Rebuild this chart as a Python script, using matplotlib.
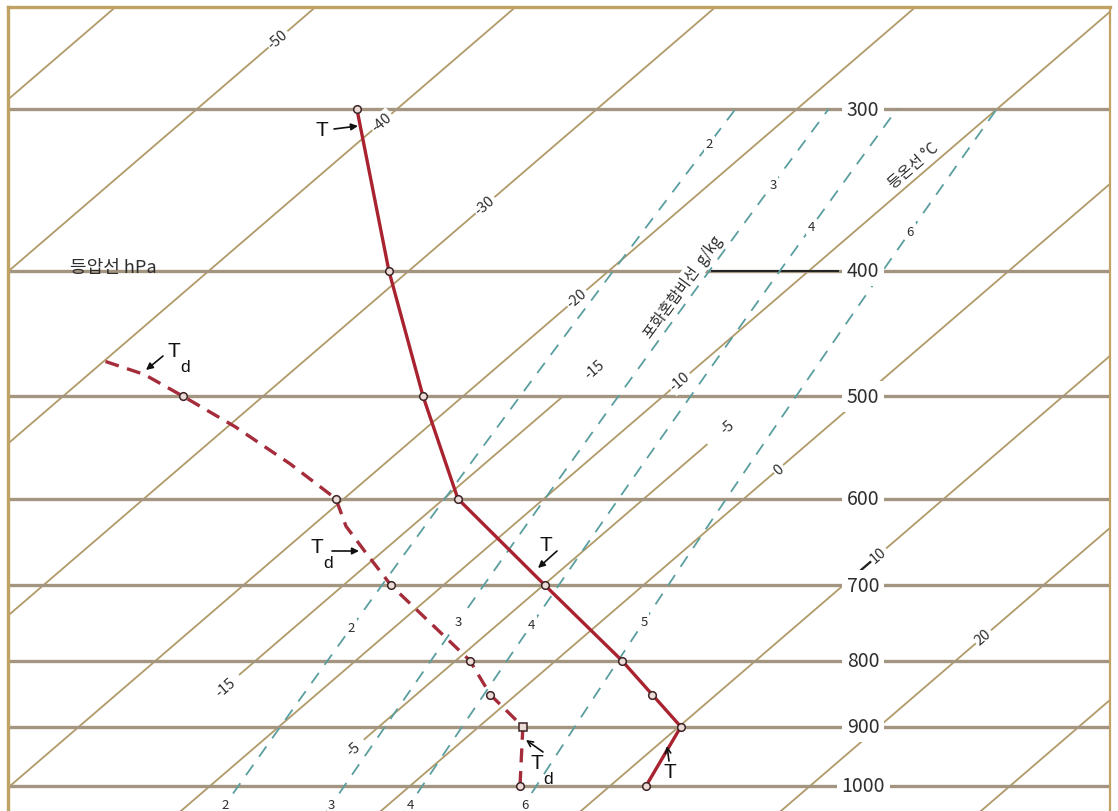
import numpy as np
import matplotlib
matplotlib.use("Agg")
import matplotlib.pyplot as plt

plt.rcParams["font.family"] = ["Noto Sans CJK KR", "DejaVu Sans"]

# ---------------- chart data ----------------
isobar_levels = [300, 400, 500, 600, 700, 800, 900, 1000]
isobar_labels = ["300", "400", "500", "600", "700", "800", "900", "1000"]

isotherm_full = [-60, -50, -40, -30, -20, -10, 0, 10, 20, 30]
isotherm_part = [-15, -5]
isotherm_part_top = [500, 545]
isotherm_part_bottom = [820, 920]

iso_label_t = [-50, -40, -30, -20, -15, -15, -10, -5, -5, 0, 10, 20]
iso_label_p = [265, 307, 356, 420, 476, 838, 487, 528, 936, 569, 663, 767]

mixing_ratios = [2, 3, 4, 6]
mix_label_w = [2, 3, 4, 6, 2, 3, 4, 6, 2, 3, 4, 6]
mix_label_text = ["2", "3", "4", "6", "2", "3", "4", "5", "2", "3", "4", "6"]
mix_label_p = [319, 343, 370, 373, 754, 747, 750, 746, 1033, 1033, 1033, 1033]

temp_p = [300, 400, 500, 600, 700, 800, 850, 900, 1000]
temp_c = [-42.0, -31.0, -22.0, -14.3, -4.9, 3.3, 6.8, 10.1, 11.8]

dew_p = [470, 481, 500, 528, 564, 600, 630, 660, 700, 800, 850, 900, 1000]
dew_c = [-39.9, -37.2, -34.0, -29.6, -24.7, -20.4, -18.3, -15.8, -12.6,
         -4.3, -1.3, 2.2, 5.5]
dew_marked_p = [500, 600, 700, 800, 850, 1000]
dew_square_p = [900]

# ---------------- diagram geometry ----------------
SKEW = 32.68          # degC of skew per unit of ln(1000/p)
P_BOTTOM, P_TOP = 1045.5, 250.2
T_LEFT, T_RIGHT = -20.1, 35.0

ISOBAR_C = "#a39580"
ISOTHERM_C = "#b09a68"
FRAME_C = "#bfa264"
MIX_C = "#5a9ea0"
TEMP_C = "#a8232f"
DEW_C = "#a52c3a"
TEXT_C = "#2e2e2e"


def skew_x(t, p):
    return np.asarray(t, float) + SKEW * np.log(1000.0 / np.asarray(p, float))


def dewpoint_of_mixing(w, p):
    p = np.asarray(p, float)
    e = w * p / (622.0 + w)
    a = np.log(e / 6.112)
    return 243.5 * a / (17.67 - a)


W, H = 1118, 812
fig = plt.figure(figsize=(W / 100, H / 100), dpi=100)
ax = fig.add_axes([8 / W, 0, 1102 / W, 1 - 8 / H])
ax.set_yscale("log")
ax.set_xlim(T_LEFT, T_RIGHT)
ax.set_ylim(P_BOTTOM, P_TOP)
ax.xaxis.set_major_locator(plt.NullLocator())
ax.xaxis.set_minor_locator(plt.NullLocator())
ax.yaxis.set_major_locator(plt.NullLocator())
ax.yaxis.set_minor_locator(plt.NullLocator())
for side, lw in (("left", 2.4), ("top", 2.4), ("right", 1.6)):
    ax.spines[side].set_color(FRAME_C)
    ax.spines[side].set_linewidth(lw)
ax.spines["bottom"].set_visible(False)

# isotherms
p_span = np.array([1100.0, 240.0])
for t in isotherm_full:
    ax.plot(skew_x([t, t], p_span), p_span, color=ISOTHERM_C, lw=1.3, zorder=1)
for t, ptop, pbot in zip(isotherm_part, isotherm_part_top, isotherm_part_bottom):
    ax.plot(skew_x([t, t], [pbot, ptop]), [pbot, ptop], color=ISOTHERM_C,
            lw=1.3, zorder=1)
# dark leader on the 10 degC isotherm
ax.plot(skew_x([10, 10], [692, 671]), [692, 671], color="#222222", lw=1.6, zorder=2)

# isobars
for p in isobar_levels:
    ax.axhline(p, color=ISOBAR_C, lw=2.4, zorder=1.5)
ax.axhline(400, xmin=(712 - 8) / 1102, xmax=(838 - 8) / 1102,
           color="#222222", lw=1.4, zorder=1.6)

# saturation mixing-ratio lines
pm = np.geomspace(1100, 300, 80)
for w in mixing_ratios:
    ax.plot(skew_x(dewpoint_of_mixing(w, pm), pm), pm, color=MIX_C, lw=1.3,
            linestyle=(0, (7.0, 5.5)), zorder=2)

# labels on the reference lines
lab_box = dict(boxstyle="square,pad=0.12", fc="white", ec="none")
rot_iso = np.degrees(np.arctan2(1.0, 1.1625))
for t, p in zip(iso_label_t, iso_label_p):
    ax.text(skew_x(t, p), p, f"{t}", rotation=rot_iso, rotation_mode="anchor",
            ha="center", va="center", fontsize=10.5, color=TEXT_C, bbox=lab_box,
            zorder=3)
for w, txt, p in zip(mix_label_w, mix_label_text, mix_label_p):
    ax.text(skew_x(dewpoint_of_mixing(w, p), p), p, txt, ha="center",
            va="center", fontsize=9.5, color=TEXT_C, bbox=lab_box, zorder=3)

trans_lab = ax.get_yaxis_transform()
for p, txt in zip(isobar_levels, isobar_labels):
    ax.text(0.776, p, txt, transform=trans_lab, ha="center", va="center",
            fontsize=14, color=TEXT_C, zorder=3,
            bbox=dict(boxstyle="square,pad=0.25", fc="white", ec="none"))

# titles of the line families
fig.text(113, H - 268, "등압선 hPa", transform=None, fontsize=13,
         color=TEXT_C, ha="center", va="center")
fig.text(683, H - 287, "포화혼합비선  g/kg", transform=None, fontsize=11,
         color=TEXT_C, ha="center", va="center", rotation=54,
         rotation_mode="anchor",
         bbox=dict(boxstyle="square,pad=0.1", fc="white", ec="none"), zorder=3)
fig.text(913, H - 166, "등온선 °C", transform=None, fontsize=11,
         color=TEXT_C, ha="center", va="center", rotation=rot_iso,
         rotation_mode="anchor",
         bbox=dict(boxstyle="square,pad=0.1", fc="white", ec="none"), zorder=3)

# sounding: temperature and dew point
ax.plot(skew_x(temp_c, temp_p), temp_p, color=TEMP_C, lw=2.4, zorder=5,
        marker="o", ms=5.5, mfc="#eadbd6", mec="#3d2426", mew=1.1)
ax.plot(skew_x(dew_c, dew_p), dew_p, color=DEW_C, lw=2.4, zorder=5,
        linestyle=(0, (4.2, 2.6)))
dmk_t = [dew_c[dew_p.index(p)] for p in dew_marked_p]
ax.plot(skew_x(dmk_t, dew_marked_p), dew_marked_p, ls="none", marker="o",
        ms=5.5, mfc="#eadbd6", mec="#3d2426", mew=1.1, zorder=6)
dsq_t = [dew_c[dew_p.index(p)] for p in dew_square_p]
ax.plot(skew_x(dsq_t, dew_square_p), dew_square_p, ls="none", marker="s",
        ms=5.5, mfc="#eadbd6", mec="#3d2426", mew=1.1, zorder=6)


# curve labels with pointer arrows (figure pixel positions)
def pointer(tail, tip, style="-|>"):
    fig.add_artist(matplotlib.patches.FancyArrowPatch(
        (tail[0], H - tail[1]), (tip[0], H - tip[1]), transform=None,
        arrowstyle=style, mutation_scale=10, color="#111111", lw=1.2,
        shrinkA=0, shrinkB=0, zorder=7))


def name(x, y, sub=None):
    fig.text(x, H - y, "T", transform=None, fontsize=15, color="#111111",
             family=["Liberation Sans", "DejaVu Sans"],
             ha="center", va="center", zorder=7)
    if sub:
        fig.text(x + 11, H - y - 16, sub, transform=None, fontsize=12.5,
                 family=["Liberation Sans", "DejaVu Sans"],
                 color="#111111", ha="center", va="center", zorder=7)


name(322, 131)
pointer((334, 130), (358, 127))
name(174, 352, "d")
pointer((163, 357), (146, 371))
name(317, 548, "d")
pointer((332, 552), (359, 552))
name(546, 546)
pointer((557, 552), (538, 569))
name(537, 764, "d")
pointer((543, 753), (526, 741), style="->")
name(670, 773)
pointer((669, 762), (667, 747), style="->")

fig.savefig("out.png", dpi=100, facecolor="white")
